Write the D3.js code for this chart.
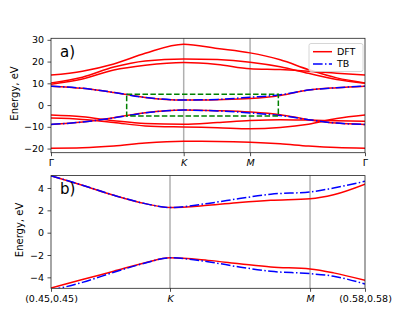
<!DOCTYPE html>
<html>
<head>
<meta charset="utf-8">
<script src="https://cdn.jsdelivr.net/npm/d3@7"></script>
<style>
  body { margin: 0; background: #fff; }
  svg { display: block; }
  text { font-family: "DejaVu Sans", sans-serif; fill: #000; }
</style>
</head>
<body>
<svg width="407" height="326"></svg>
<script>
// ---- panel a) : full path Γ-K-M-Γ (k as fraction of path length)
const kA = [0, 0.1, 0.2, 0.3, 0.4226, 0.53, 0.634, 0.73, 0.82, 0.91, 1.0];

const dftBand1 = [13.8, 15.6, 18.9, 23.8, 28.0, 26.0, 24.0, 20.8, 16.3, 12.5, 10.2];
const dftBand2 = [10.2, 12.8, 17.5, 20.3, 21.2, 20.9, 19.7, 17.6, 14.6, 11.8, 10.0];
const dftBand3 = [9.6, 12.0, 16.1, 18.3, 19.6, 18.7, 16.7, 16.3, 15.6, 14.6, 13.8];
const dftCond = [8.7, 7.7, 5.8, 3.5, 2.3, 2.5, 3.0, 4.4, 6.9, 8.0, 8.7];
const dftVal = [-8.9, -7.8, -5.8, -3.5, -2.3, -2.6, -3.2, -4.4, -6.7, -8.3, -8.9];
const dftVal2 = [-4.6, -5.4, -7.2, -8.5, -8.8, -8.0, -7.1, -6.7, -6.9, -7.2, -7.4];
const dftVal3 = [-6.0, -6.6, -8.0, -9.6, -10.1, -10.4, -10.9, -10.3, -8.8, -6.2, -4.6];
const dftVal4 = [-19.8, -19.6, -18.8, -17.4, -16.6, -16.7, -17.1, -17.8, -18.8, -19.5, -19.8];

const tbCond = [8.7, 7.7, 5.8, 3.5, 2.3, 2.6, 3.6, 4.7, 6.9, 8.0, 8.7];
const tbVal = [-8.9, -7.8, -5.9, -3.6, -2.3, -2.7, -3.6, -4.8, -6.7, -8.3, -8.9];

const ticksA = [0, 0.4226, 0.634, 1];
const tickLabelsA = ['Γ', 'K', 'M', 'Γ'];
const energyTicksA = [-20, -10, 0, 10, 20, 30];
const boxK = [0.241, 0.724];
const boxE = [-5, 5];

// ---- panel b) : zoom between (0.45,0.45) and (0.58,0.58)
const kB = [0, 0.1, 0.2, 0.3, 0.379, 0.5, 0.6, 0.7, 0.825, 0.9, 1.0];

const dftCondB = [5.1, 4.25, 3.35, 2.6, 2.25, 2.45, 2.7, 2.9, 3.04, 3.4, 4.35];
const dftValB = [-4.95, -4.2, -3.45, -2.7, -2.25, -2.48, -2.78, -3.07, -3.25, -3.6, -4.27];
const tbCondB = [5.1, 4.25, 3.35, 2.6, 2.25, 2.62, 3.05, 3.45, 3.64, 4.0, 4.6];
const tbValB = [-5.16, -4.45, -3.55, -2.72, -2.25, -2.6, -3.07, -3.46, -3.67, -3.9, -4.6];

const ticksB = [0, 0.379, 0.825, 1];
const tickLabelsB = ['(0.45,0.45)', 'K', 'M', '(0.58,0.58)'];
const energyTicksB = [-4, -2, 0, 2, 4];

const svg = d3.select('svg');

const drawPanel = (props) => {
    const { id, k, dft, tb, ticks, tickLabels, yTicks, yDomain,
            left, right, top, bottom, letter, labelX, box } = props;

    const x = d3.scaleLinear().domain([0, 1]).range([left, right]);
    const y = d3.scaleLinear().domain(yDomain).range([bottom, top]);
    const g = svg.append('g');

    svg.append('clipPath').attr('id', id)
      .append('rect')
        .attr('x', left).attr('y', top)
        .attr('width', right - left).attr('height', bottom - top);

    // gray vertical lines at K and M
    g.selectAll('line.sym').data(ticks.slice(1, -1))
      .enter().append('line')
        .attr('x1', x).attr('x2', x)
        .attr('y1', top).attr('y2', bottom)
        .attr('stroke', '#b0b0b0')
        .attr('stroke-width', 1.5);

    const line = d3.line()
        .x((d, i) => x(k[i]))
        .y(d => y(d))
        .curve(d3.curveMonotoneX);

    const bands = g.append('g').attr('clip-path', `url(#${id})`);

    bands.selectAll('path.dft').data(dft)
      .enter().append('path')
        .attr('d', line)
        .attr('fill', 'none')
        .attr('stroke', '#ff0000')
        .attr('stroke-width', 1.5);

    bands.selectAll('path.tb').data(tb)
      .enter().append('path')
        .attr('d', line)
        .attr('fill', 'none')
        .attr('stroke', '#0000ff')
        .attr('stroke-width', 1.5)
        .attr('stroke-dasharray', '9.6,2.4,1.5,2.4');

    if (box) {
        g.append('rect')
            .attr('x', x(box.k[0]))
            .attr('y', y(box.e[1]))
            .attr('width', x(box.k[1]) - x(box.k[0]))
            .attr('height', y(box.e[0]) - y(box.e[1]))
            .attr('fill', 'none')
            .attr('stroke', '#008000')
            .attr('stroke-width', 1.5)
            .attr('stroke-dasharray', '5.5,2.4');
    }

    // axes
    const yAxis = d3.axisLeft(y)
        .tickValues(yTicks)
        .tickSize(3.5)
        .tickPadding(3.5)
        .tickFormat(d3.format('d'));
    const yG = g.append('g').attr('transform', `translate(${left},0)`).call(yAxis);

    const xAxis = d3.axisBottom(x)
        .tickValues(ticks)
        .tickSize(3.5)
        .tickPadding(3.5)
        .tickFormat((d, i) => tickLabels[i]);
    const xG = g.append('g').attr('transform', `translate(0,${bottom})`).call(xAxis);

    [yG, xG].forEach(a => {
        a.select('.domain').remove();
        a.attr('font-family', null).attr('font-size', null);
        a.selectAll('line').attr('stroke', '#222').attr('stroke-width', 0.8);
        a.selectAll('text').style('font-size', '9.5px');
    });
    xG.selectAll('text')
        .style('font-style', (d, i) => (tickLabels[i] === 'K' || tickLabels[i] === 'M') ? 'italic' : 'normal');

    g.append('rect')
        .attr('x', left).attr('y', top)
        .attr('width', right - left).attr('height', bottom - top)
        .attr('fill', 'none')
        .attr('stroke', '#222')
        .attr('stroke-width', 0.8);

    g.append('text')
        .attr('transform', `translate(${labelX},${(top + bottom) / 2 - 2}) rotate(-90)`)
        .attr('text-anchor', 'middle')
        .style('font-size', '10px')
        .text('Energy, eV');

    g.append('text')
        .attr('x', left + 9)
        .attr('y', top + 18.5)
        .style('font-size', '15px')
        .text(letter);

    return g;
};

const gA = drawPanel({
    id: 'clipA', k: kA,
    dft: [dftBand1, dftBand2, dftBand3, dftCond, dftVal, dftVal2, dftVal3, dftVal4],
    tb: [tbCond, tbVal],
    ticks: ticksA, tickLabels: tickLabelsA, yTicks: energyTicksA,
    yDomain: [-21.9, 30.7],
    left: 51, right: 365, top: 38.3, bottom: 152.7,
    letter: 'a)', labelX: 18,
    box: { k: boxK, e: boxE }
});

drawPanel({
    id: 'clipB', k: kB,
    dft: [dftCondB, dftValB],
    tb: [tbCondB, tbValB],
    ticks: ticksB, tickLabels: tickLabelsB, yTicks: energyTicksB,
    yDomain: [-4.98, 5.11],
    left: 51, right: 365, top: 175.6, bottom: 288.3,
    letter: 'b)', labelX: 23
});

// legend for panel a
const legendG = gA.append('g').attr('transform', 'translate(309,43.5)');
legendG.append('rect')
    .attr('width', 54).attr('height', 28)
    .attr('rx', 2)
    .attr('fill', '#fff').attr('fill-opacity', 0.8)
    .attr('stroke', '#cccccc').attr('stroke-width', 0.8);
const legendItems = legendG.selectAll('g').data(['DFT', 'TB'])
  .enter().append('g')
    .attr('transform', (d, i) => `translate(0,${8.2 + i * 12.3})`);
legendItems.append('line')
    .attr('x1', 4).attr('x2', 23)
    .attr('stroke', (d, i) => i === 0 ? '#ff0000' : '#0000ff')
    .attr('stroke-width', 1.5)
    .attr('stroke-dasharray', (d, i) => i === 0 ? null : '9.6,2.4,1.5,2.4');
legendItems.append('text')
    .attr('x', 28)
    .attr('dy', '0.35em')
    .style('font-size', '9.5px')
    .text(d => d);
</script>
</body>
</html>
